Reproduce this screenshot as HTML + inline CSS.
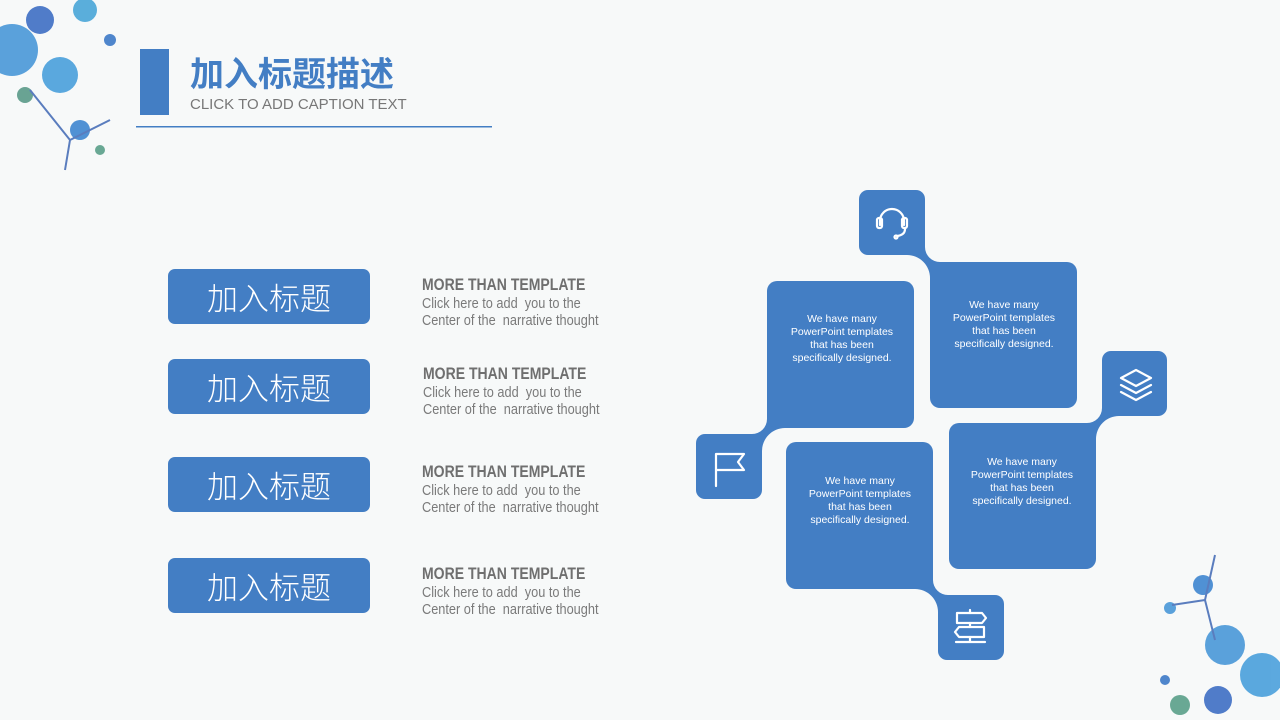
<!DOCTYPE html>
<html><head><meta charset="utf-8"><style>
html,body{margin:0;padding:0}
body{width:1280px;height:720px;position:relative;overflow:hidden;background:#f7f9f9;font-family:"Liberation Sans","Noto Sans CJK SC",sans-serif}
.abs{position:absolute}
.btn{position:absolute;left:168px;width:202px;height:55px;background:#437ec4;border-radius:7px;color:#fff;font-size:31px;line-height:55px;text-align:center;font-family:"Noto Sans CJK SC","WenQuanYi Zen Hei",sans-serif;font-weight:300}
.tx{position:absolute;left:422px;color:#7a7a7a;transform:scaleX(0.85);transform-origin:left top;white-space:nowrap}
.tx b{display:block;font-size:16.5px;color:#6f6f6f;line-height:19px}
.tx span{display:block;font-size:15px;line-height:17px}
</style></head><body>
<svg class="abs" style="left:0;top:0" width="1280" height="720">
<g opacity="0.9">
<circle cx="12" cy="50" r="26" fill="#4a98d8"/><circle cx="60" cy="75" r="18" fill="#4aa0dc"/>
<circle cx="40" cy="20" r="14" fill="#3f6fc4"/><circle cx="85" cy="10" r="12" fill="#4aa6d8"/>
<circle cx="110" cy="40" r="6" fill="#3d7ac8"/><circle cx="80" cy="130" r="10" fill="#3f86d0"/>
<circle cx="25" cy="95" r="8" fill="#5a9a88"/><circle cx="100" cy="150" r="5" fill="#5aa08a"/>
<path d="M30 90 L70 140 L65 170 M70 140 L110 120" stroke="#4a70b8" stroke-width="2" fill="none"/>
</g>
<g opacity="0.9">
<circle cx="1225" cy="645" r="20" fill="#4a98d8"/><circle cx="1262" cy="675" r="22" fill="#4aa0dc"/>
<circle cx="1203" cy="585" r="10" fill="#3f86d0"/><circle cx="1170" cy="608" r="6" fill="#4a98d8"/>
<circle cx="1218" cy="700" r="14" fill="#3f6fc4"/><circle cx="1180" cy="705" r="10" fill="#5aa08a"/>
<circle cx="1165" cy="680" r="5" fill="#3d7ac8"/>
<path d="M1215 555 L1205 600 L1215 640 M1205 600 L1172 605" stroke="#4a70b8" stroke-width="2" fill="none"/>
</g>
<rect x="140" y="49" width="29" height="66" fill="#437ec4"/>
<rect x="136" y="126" width="356" height="1.5" fill="#437ec4"/>
<g fill="#437ec4">
<path d="M900 240 L925 240 L925 247 A15 15 0 0 0 940 262 L950 262 L950 290 L930 290 L930 278 A23 23 0 0 0 907 255 L900 255 Z"/>
<path d="M908 574 L933 574 L933 580 A15 15 0 0 0 948 595 L958 595 L958 623 L938 623 L938 612 A23 23 0 0 0 915 589 L908 589 Z"/>
<path d="M792 413 L767 413 L767 419 A15 15 0 0 1 752 434 L742 434 L742 462 L762 462 L762 451 A23 23 0 0 1 785 428 L792 428 Z"/>
<path d="M1127 401 L1102 401 L1102 408 A15 15 0 0 1 1087 423 L1076 423 L1076 451 L1096 451 L1096 439 A23 23 0 0 1 1119 416 L1127 416 Z"/>
<rect x="859" y="190" width="66" height="65" rx="9"/>
<rect x="930" y="262" width="147" height="146" rx="10"/>
<rect x="767" y="281" width="147" height="147" rx="10"/>
<rect x="696" y="434" width="66" height="65" rx="9"/>
<rect x="1102" y="351" width="65" height="65" rx="9"/>
<rect x="949" y="423" width="147" height="146" rx="10"/>
<rect x="786" y="442" width="147" height="147" rx="10"/>
<rect x="938" y="595" width="66" height="65" rx="9"/>
</g>
<g stroke="#fff" stroke-width="2.2" fill="none" stroke-linecap="round" stroke-linejoin="round">
<path d="M880 225 v-4 a12 12 0 0 1 24 0 v4"/><rect x="877" y="218" width="5" height="10" rx="2"/><rect x="902" y="218" width="5" height="10" rx="2"/>
<path d="M905 229 q0 6 -8 7"/><circle cx="896" cy="237" r="1.5"/>
<path d="M716 486 v-32 h28 l-6 8 l6 8 h-28"/>
<path d="M1136 370 l15 8 l-15 8 l-15 -8 z"/><path d="M1121 385 l15 8 l15 -8"/><path d="M1121 392 l15 8 l15 -8"/>
<path d="M957 613 h25 l4 5 l-4 5 h-25 z"/><path d="M984 627 h-25 l-4 5 l4 5 h25 z"/><path d="M970 610 v3 M970 623 v4 M970 637 v5 M956 642 h29"/>
</g>
<g fill="#fff" font-family="Liberation Sans, sans-serif" font-size="10.5" text-anchor="middle">
<text x="842" y="322">We have many</text><text x="842" y="335">PowerPoint templates</text><text x="842" y="348">that has been</text><text x="842" y="361">specifically designed.</text>
<text x="1004" y="308">We have many</text><text x="1004" y="321">PowerPoint templates</text><text x="1004" y="334">that has been</text><text x="1004" y="347">specifically designed.</text>
<text x="1022" y="465">We have many</text><text x="1022" y="478">PowerPoint templates</text><text x="1022" y="491">that has been</text><text x="1022" y="504">specifically designed.</text>
<text x="860" y="484">We have many</text><text x="860" y="497">PowerPoint templates</text><text x="860" y="510">that has been</text><text x="860" y="523">specifically designed.</text>
</g>
</svg>
<div class="abs" style="left:190px;top:50px;font-size:34px;font-weight:bold;color:#437ec4;font-family:'Noto Sans CJK SC',sans-serif;line-height:44px">加入标题描述</div>
<div class="abs" style="left:190px;top:96px;font-size:15px;color:#777;line-height:17px">CLICK TO ADD CAPTION TEXT</div>

<div class="btn" style="top:269px">加入标题</div>
<div class="btn" style="top:359px">加入标题</div>
<div class="btn" style="top:457px">加入标题</div>
<div class="btn" style="top:558px">加入标题</div>

<div class="tx" style="top:276px"><b>MORE THAN TEMPLATE</b><span>Click here to add &nbsp;you to the</span><span>Center of the &nbsp;narrative thought</span></div>
<div class="tx" style="top:365px;left:423px"><b>MORE THAN TEMPLATE</b><span>Click here to add &nbsp;you to the</span><span>Center of the &nbsp;narrative thought</span></div>
<div class="tx" style="top:463px"><b>MORE THAN TEMPLATE</b><span>Click here to add &nbsp;you to the</span><span>Center of the &nbsp;narrative thought</span></div>
<div class="tx" style="top:565px"><b>MORE THAN TEMPLATE</b><span>Click here to add &nbsp;you to the</span><span>Center of the &nbsp;narrative thought</span></div>
</body></html>
